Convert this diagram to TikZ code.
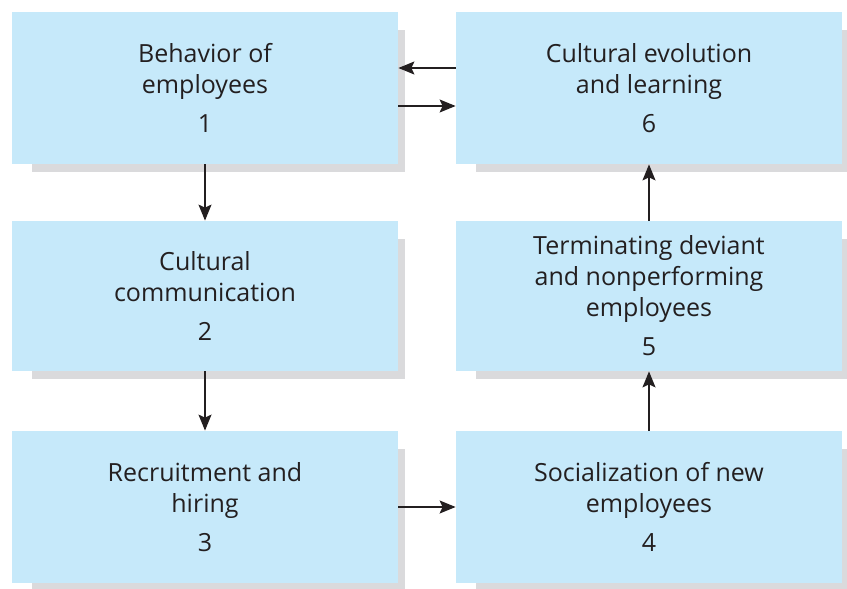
\documentclass[tikz,border=0pt]{standalone}
\usepackage{fontspec}
\setmainfont{Open Sans}
\definecolor{boxblue}{RGB}{198, 233, 250}
\definecolor{shadowgray}{RGB}{218, 218, 220}
\definecolor{inkdark}{RGB}{35, 31, 32}
\usetikzlibrary{arrows.meta, positioning, calc, backgrounds}

\begin{document}
\begin{tikzpicture}[x=0.5pt, y=-0.5pt,
  stagebox/.style={fill=boxblue, minimum width=193pt, minimum height=76pt, inner sep=0pt,
    align=center, text=inkdark, font=\fontsize{12.5}{15.5}\selectfont},
  flow/.style={-{Stealth[length=8pt, width=6.5pt, inset=1.5pt]}, line width=0.7pt, inkdark}]
  \useasboundingbox (0,0) rectangle (847,589);

  % Left column
  \node[stagebox] (behav) at (205, 88) {Behavior of\\employees\\[4pt]1};
  \node[stagebox, minimum height=75pt] (comm) at (205, 296) {Cultural\\communication\\[4pt]2};
  \node[stagebox] (recruit) at (205, 507) {Recruitment and\\hiring\\[4pt]3};

  % Right column
  \node[stagebox] (evol) at (649, 88) {Cultural evolution\\and learning\\[4pt]6};
  \node[stagebox, minimum height=75pt] (term) at (649, 296) {Terminating deviant\\and nonperforming\\employees\\[4pt]5};
  \node[stagebox] (social) at (649, 507) {Socialization of new\\employees\\[4pt]4};

  % Shadows
  \begin{scope}[on background layer]
    \foreach \b in {behav, comm, recruit, evol, term, social}
      \fill[shadowgray] ($(\b.north west)+(10pt,-9pt)$) rectangle ($(\b.south east)+(3.5pt,-4pt)$);
  \end{scope}

  % Flow
  \draw[flow] (behav) -- (comm);
  \draw[flow] (comm) -- (recruit);
  \draw[flow] (recruit) -- (social);
  \draw[flow] (social) -- (term);
  \draw[flow] (term) -- (evol);
  \draw[flow] ([yshift=10pt]evol.west) -- ([yshift=10pt]evol.west -| behav.east);
  \draw[flow] ([yshift=-9pt]behav.east) -- ([yshift=-9pt]behav.east -| evol.west);
\end{tikzpicture}
\end{document}
